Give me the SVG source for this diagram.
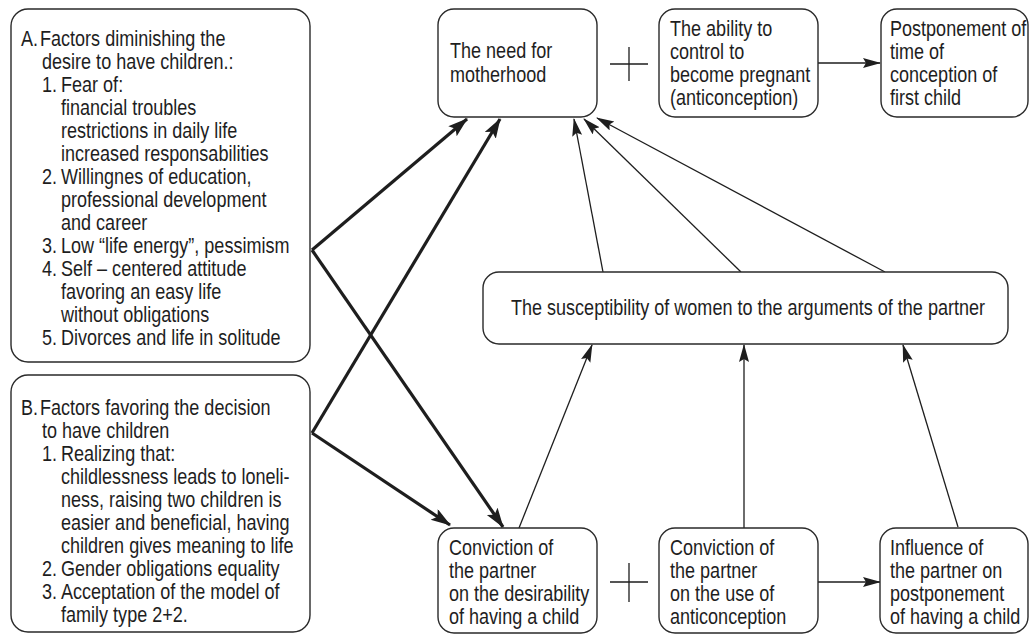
<svg xmlns="http://www.w3.org/2000/svg" width="1030" height="634" viewBox="0 0 1030 634">
<defs>
<style>
.box{fill:#fff;stroke:#2a2a2a;stroke-width:1.4}
text{font-family:"Liberation Sans",Arial,sans-serif;font-size:22px;fill:#1e1e1e}
.thick{stroke:#1e1e1e;stroke-width:3.2;fill:none}
.thin{stroke:#1e1e1e;stroke-width:1.3;fill:none}
</style>
<marker id="ahThick" markerUnits="userSpaceOnUse" markerWidth="22" markerHeight="14" refX="19" refY="6.5" orient="auto">
<path d="M0,0 L20,6.5 L0,13 L4,6.5 z" fill="#1e1e1e"/>
</marker>
<marker id="ahThin" markerUnits="userSpaceOnUse" markerWidth="20" markerHeight="12" refX="17" refY="5" orient="auto">
<path d="M0,0 L18,5 L0,10 L3,5 z" fill="#1e1e1e"/>
</marker>
</defs>
<rect width="1030" height="634" fill="#fff"/>

<g id="connectors">
<path class="thick" d="M312,250 L467,119" marker-end="url(#ahThick)"/>
<path class="thick" d="M312,250 L503,527" marker-end="url(#ahThick)"/>
<path class="thick" d="M312,433 L500,119" marker-end="url(#ahThick)"/>
<path class="thick" d="M312,433 L450,525" marker-end="url(#ahThick)"/>
<path class="thin" d="M603,272 L574,119" marker-end="url(#ahThin)"/>
<path class="thin" d="M741,272 L584,119" marker-end="url(#ahThin)"/>
<path class="thin" d="M885,272 L597,118" marker-end="url(#ahThin)"/>
<path class="thin" d="M519,528 L592,345" marker-end="url(#ahThin)"/>
<path class="thin" d="M744,528 L744,345" marker-end="url(#ahThin)"/>
<path class="thin" d="M958,527 L903,345" marker-end="url(#ahThin)"/>
<path class="thin" d="M818,63 L880,63" marker-end="url(#ahThin)"/>
<path class="thin" d="M818,582 L880,582" marker-end="url(#ahThin)"/>
<path class="thin" d="M610,64 L648,64 M629,47 L629,81"/>
<path class="thin" d="M610,582 L648,582 M629,563 L629,602"/>
</g>

<g id="nodeA">
<rect class="box" x="11" y="9" width="299" height="353" rx="17"/>
<text transform="translate(21 46) scale(.82 1)">A.</text><text transform="translate(40 46) scale(.82 1)">Factors diminishing the</text>
<text transform="translate(42 69) scale(.82 1)">desire to have children.:</text>
<text transform="translate(42 92) scale(.82 1)">1.</text><text transform="translate(61 92) scale(.82 1)">Fear of:</text>
<text transform="translate(61 115) scale(.82 1)">financial troubles</text>
<text transform="translate(61 138) scale(.82 1)">restrictions in daily life</text>
<text transform="translate(61 161) scale(.82 1)">increased responsabilities</text>
<text transform="translate(42 184) scale(.82 1)">2.</text><text transform="translate(61 184) scale(.82 1)">Willingnes of education,</text>
<text transform="translate(61 207) scale(.82 1)">professional development</text>
<text transform="translate(61 230) scale(.82 1)">and career</text>
<text transform="translate(42 253) scale(.82 1)">3.</text><text transform="translate(61 253) scale(.82 1)">Low “life energy”, pessimism</text>
<text transform="translate(42 276) scale(.82 1)">4.</text><text transform="translate(61 276) scale(.82 1)">Self – centered attitude</text>
<text transform="translate(61 299) scale(.82 1)">favoring an easy life</text>
<text transform="translate(61 322) scale(.82 1)">without obligations</text>
<text transform="translate(42 345) scale(.82 1)">5.</text><text transform="translate(61 345) scale(.82 1)">Divorces and life in solitude</text>
</g>

<g id="nodeB">
<rect class="box" x="11" y="375" width="299" height="257" rx="17"/>
<text transform="translate(21 415) scale(.82 1)">B.</text><text transform="translate(40 415) scale(.82 1)">Factors favoring the decision</text>
<text transform="translate(42 438) scale(.82 1)">to have children</text>
<text transform="translate(42 461) scale(.82 1)">1.</text><text transform="translate(61 461) scale(.82 1)">Realizing that:</text>
<text transform="translate(61 484) scale(.82 1)">childlessness leads to loneli-</text>
<text transform="translate(61 507) scale(.82 1)">ness, raising two children is</text>
<text transform="translate(61 530) scale(.82 1)">easier and beneficial, having</text>
<text transform="translate(61 553) scale(.82 1)">children gives meaning to life</text>
<text transform="translate(42 576) scale(.82 1)">2.</text><text transform="translate(61 576) scale(.82 1)">Gender obligations equality</text>
<text transform="translate(42 599) scale(.82 1)">3.</text><text transform="translate(61 599) scale(.82 1)">Acceptation of the model of</text>
<text transform="translate(61 622) scale(.82 1)">family type 2+2.</text>
</g>

<g id="nodeNeed">
<rect class="box" x="438" y="9" width="159" height="108" rx="16"/>
<text transform="translate(450 58) scale(.82 1)">The need for</text>
<text transform="translate(450 82) scale(.82 1)">motherhood</text>
</g>

<g id="nodeAbility">
<rect class="box" x="659" y="9" width="159" height="108" rx="16"/>
<text transform="translate(670 36) scale(.82 1)">The ability to</text>
<text transform="translate(670 59) scale(.82 1)">control to</text>
<text transform="translate(670 82) scale(.82 1)">become pregnant</text>
<text transform="translate(670 105) scale(.82 1)">(anticonception)</text>
</g>

<g id="nodePostpone">
<rect class="box" x="881" y="9" width="147" height="108" rx="16"/>
<text transform="translate(890 36) scale(.82 1)">Postponement of</text>
<text transform="translate(890 59) scale(.82 1)">time of</text>
<text transform="translate(890 82) scale(.82 1)">conception of</text>
<text transform="translate(890 105) scale(.82 1)">first child</text>
</g>

<g id="nodeSusceptibility">
<rect class="box" x="483" y="272" width="525" height="72" rx="16"/>
<text transform="translate(748 315) scale(.82 1)" text-anchor="middle">The susceptibility of women to the arguments of the partner</text>
</g>

<g id="nodeConviction1">
<rect class="box" x="438" y="528" width="159" height="105" rx="16"/>
<text transform="translate(449 555) scale(.82 1)">Conviction of</text>
<text transform="translate(449 578) scale(.82 1)">the partner</text>
<text transform="translate(449 601) scale(.82 1)">on the desirability</text>
<text transform="translate(449 624) scale(.82 1)">of having a child</text>
</g>

<g id="nodeConviction2">
<rect class="box" x="659" y="528" width="159" height="105" rx="16"/>
<text transform="translate(670 555) scale(.82 1)">Conviction of</text>
<text transform="translate(670 578) scale(.82 1)">the partner</text>
<text transform="translate(670 601) scale(.82 1)">on the use of</text>
<text transform="translate(670 624) scale(.82 1)">anticonception</text>
</g>

<g id="nodeInfluence">
<rect class="box" x="880" y="528" width="148" height="105" rx="16"/>
<text transform="translate(890 555) scale(.82 1)">Influence of</text>
<text transform="translate(890 578) scale(.82 1)">the partner on</text>
<text transform="translate(890 601) scale(.82 1)">postponement</text>
<text transform="translate(890 624) scale(.82 1)">of having a child</text>
</g>
</svg>
